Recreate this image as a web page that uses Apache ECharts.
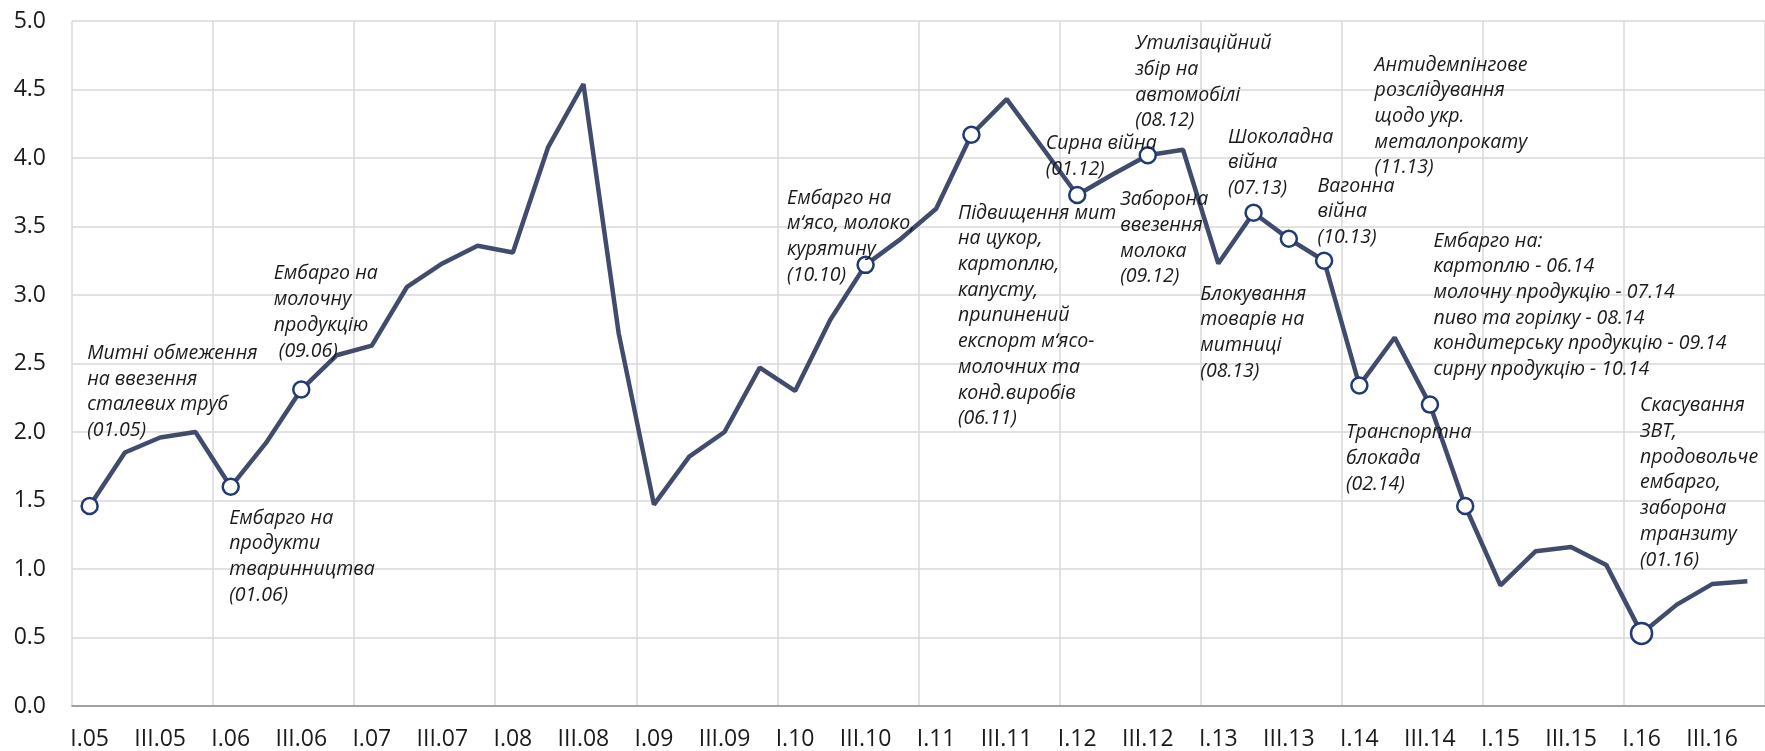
<!DOCTYPE html>
<html>
<head>
<meta charset="utf-8">
<script src="https://cdn.jsdelivr.net/npm/echarts/dist/echarts.min.js"></script>
<style>
  html, body { margin: 0; padding: 0; background: #fff; }
  #chart { width: 1765px; height: 751px; }
</style>
</head>
<body>
<div id="chart"></div>
<script>
// quarters, I.05 .. IV.16
var quarters = [
  'I.05', 'II.05', 'III.05', 'IV.05', 'I.06', 'II.06', 'III.06', 'IV.06',
  'I.07', 'II.07', 'III.07', 'IV.07', 'I.08', 'II.08', 'III.08', 'IV.08',
  'I.09', 'II.09', 'III.09', 'IV.09', 'I.10', 'II.10', 'III.10', 'IV.10',
  'I.11', 'II.11', 'III.11', 'IV.11', 'I.12', 'II.12', 'III.12', 'IV.12',
  'I.13', 'II.13', 'III.13', 'IV.13', 'I.14', 'II.14', 'III.14', 'IV.14',
  'I.15', 'II.15', 'III.15', 'IV.15', 'I.16', 'II.16', 'III.16', 'IV.16'
];

var values = [
  1.46, 1.85, 1.96, 2.00, 1.60, 1.92, 2.31, 2.56,
  2.63, 3.06, 3.23, 3.36, 3.31, 4.08, 4.54, 2.72,
  1.47, 1.82, 2.00, 2.47, 2.30, 2.82, 3.22, 3.41,
  3.63, 4.17, 4.43, 4.08, 3.73, 3.88, 4.02, 4.06,
  3.23, 3.60, 3.41, 3.25, 2.34, 2.69, 2.20, 1.46,
  0.88, 1.13, 1.16, 1.03, 0.53, 0.74, 0.89, 0.91
];

// quarters that carry a circle marker
var marked = [0, 4, 6, 22, 25, 28, 30, 33, 34, 35, 36, 38, 39, 44];
var bigMarker = 44;

// annotation texts and the quarter they belong to
var noteAt = [0, 4, 6, 22, 25, 28, 30, 30, 33, 34, 35, 35, 38, 36, 44];
var noteTexts = [
  ['Митні обмеження', 'на ввезення', 'сталевих труб', '(01.05)'],
  ['Ембарго на', 'продукти', 'тваринництва', '(01.06)'],
  ['Ембарго на', 'молочну', 'продукцію', ' (09.06)'],
  ['Ембарго на', 'м‘ясо, молоко,', 'курятину', '(10.10)'],
  ['Підвищення мит', 'на цукор,', 'картоплю,', 'капусту,', 'припинений', 'експорт м‘ясо-', 'молочних та', 'конд.виробів', '(06.11)'],
  ['Сирна війна', '(01.12)'],
  ['Утилізаційний', 'збір на', 'автомобілі', '(08.12)'],
  ['Заборона', 'ввезення', 'молока', '(09.12)'],
  ['Шоколадна', 'війна', '(07.13)'],
  ['Блокування', 'товарів на', 'митниці', '(08.13)'],
  ['Вагонна', 'війна', '(10.13)'],
  ['Антидемпінгове', 'розслідування', 'щодо укр.', 'металопрокату', '(11.13)'],
  ['Ембарго на:', 'картоплю - 06.14', 'молочну продукцію - 07.14', 'пиво та горілку - 08.14', 'кондитерську продукцію - 09.14', 'сирну продукцію - 10.14'],
  ['Транспортна', 'блокада', '(02.14)'],
  ['Скасування', 'ЗВТ,', 'продовольче', 'ембарго,', 'заборона', 'транзиту', '(01.16)']
];

// label placement relative to its point (layout only)
var noteOffsets = [
  [-2, -165], [-1, 19], [-27, -128], [-78, -79], [-13, 66],
  [-31, -64], [-12, -124], [-27, 32], [-25, -88], [-88, 43],
  [-6, -87], [51, -208], [4, -176], [-13, 35], [-1, -240]
];

var lineColor = '#414B6C';
var ringColor = '#1F3A75';

var seriesData = values.map(function (v, i) {
  if (marked.indexOf(i) < 0) return { value: v, symbol: 'none' };
  return {
    value: v,
    symbol: 'circle',
    symbolSize: i === bigMarker ? 21 : 16
  };
});

var notePoints = noteAt.map(function (idx, k) {
  return {
    coord: [quarters[idx], values[idx]],
    label: {
      position: noteOffsets[k],
      formatter: noteTexts[k].join('\n')
    }
  };
});

var chart = echarts.init(document.getElementById('chart'));

var option = {
  animation: false,
  backgroundColor: '#fff',
  grid: { left: 72, right: -7, top: 21, bottom: 44 },
  xAxis: {
    type: 'category',
    data: quarters,
    boundaryGap: true,
    axisLine: { show: true, lineStyle: { color: '#8c8c8c', width: 1.5 } },
    axisTick: { show: false },
    axisLabel: {
      interval: 1,
      margin: 22,
      fontFamily: 'Open Sans',
      fontSize: 23,
      color: '#1a1a1a'
    },
    splitLine: {
      show: true,
      interval: 3,
      lineStyle: { color: '#d9d9d9', width: 1.5 }
    }
  },
  yAxis: {
    type: 'value',
    min: 0,
    max: 5,
    interval: 0.5,
    axisLine: { show: false },
    axisTick: { show: false },
    axisLabel: {
      margin: 26,
      fontFamily: 'Open Sans',
      fontSize: 23,
      color: '#1a1a1a',
      formatter: function (v) { return v.toFixed(1); }
    },
    splitLine: { lineStyle: { color: '#d9d9d9', width: 1.5 } }
  },
  series: [
    {
      type: 'line',
      data: seriesData,
      showSymbol: true,
      showAllSymbol: true,
      lineStyle: { color: lineColor, width: 4.5 },
      itemStyle: { color: '#fff', borderColor: ringColor, borderWidth: 2.5 },
      z: 3,
      markPoint: {
        silent: true,
        symbol: 'circle',
        symbolSize: 1,
        itemStyle: { color: 'transparent', borderWidth: 0 },
        label: {
          show: true,
          align: 'left',
          verticalAlign: 'top',
          fontFamily: 'Open Sans',
          fontStyle: 'italic',
          fontSize: 19.5,
          lineHeight: 25.7,
          color: '#1a1a1a'
        },
        data: notePoints
      }
    }
  ]
};

chart.setOption(option);
</script>
</body>
</html>
